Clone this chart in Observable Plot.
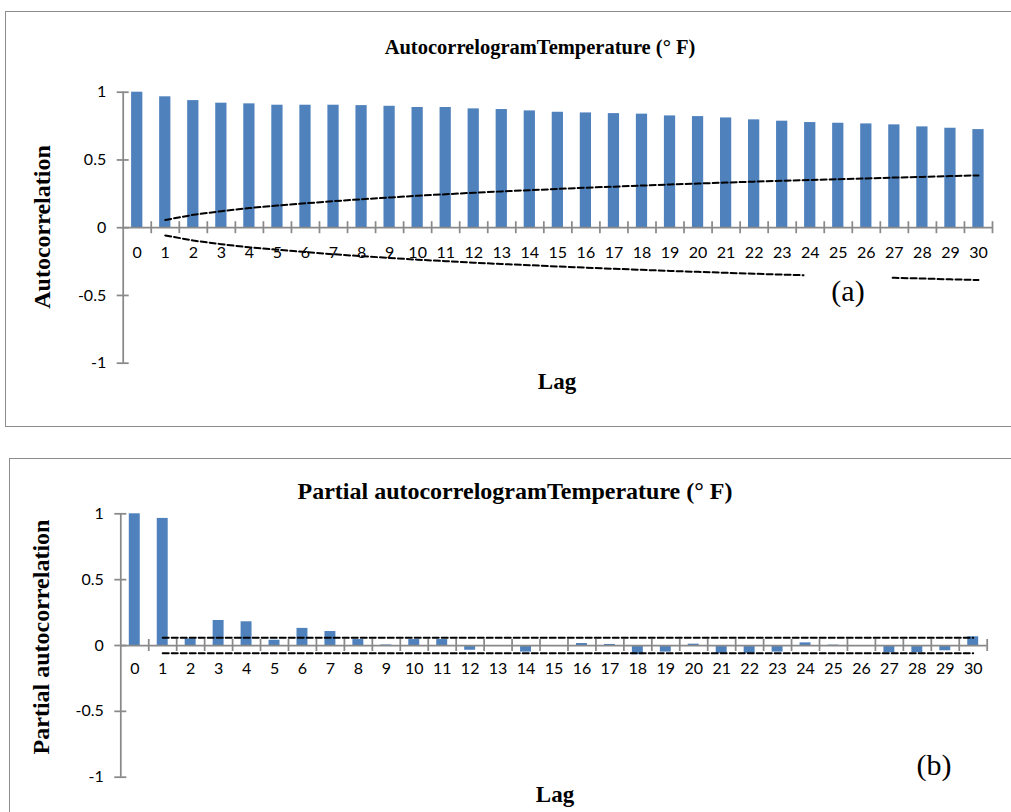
<!DOCTYPE html>
<html><head><meta charset="utf-8">
<script src="https://cdn.jsdelivr.net/npm/d3@7"></script>
<script src="https://cdn.jsdelivr.net/npm/@observablehq/plot@0.6"></script>
<style>
body{margin:0;background:#fff;}
#page{position:relative;width:1011px;height:812px;overflow:hidden;background:#fff;}
.box{position:absolute;border:1.5px solid #8c8c8c;box-sizing:border-box;}
.t{position:absolute;white-space:nowrap;color:#000;line-height:1;transform:translate(-50%,-50%);font-family:"Liberation Serif","Times New Roman",serif;}
.b{font-weight:bold;}
.rot{transform:translate(-50%,-50%) rotate(-90deg);}
.plot{position:absolute;left:0;}
</style></head><body><div id="page"></div>
<script>
// ---- data ----
const lags = [0,1,2,3,4,5,6,7,8,9,10,11,12,13,14,15,16,17,18,19,20,21,22,23,24,25,26,27,28,29,30];
const acfValues = [1.000,0.966,0.938,0.919,0.914,0.904,0.904,0.904,0.901,0.896,0.887,0.887,0.877,0.872,0.862,0.852,0.847,0.842,0.838,0.825,0.820,0.810,0.796,0.786,0.776,0.771,0.766,0.759,0.744,0.734,0.724];
const acfBoundLags = [1,2,3,4,5,6,7,8,9,10,11,12,13,14,15,16,17,18,19,20,21,22,23,24,25,26,27,28,29,30];
const acfBound = [0.057,0.095,0.122,0.145,0.163,0.180,0.196,0.210,0.223,0.236,0.247,0.258,0.268,0.277,0.286,0.295,0.303,0.311,0.319,0.326,0.333,0.340,0.346,0.352,0.358,0.364,0.370,0.375,0.381,0.386];
const pacfValues = [1.000,0.965,0.050,0.190,0.180,0.040,0.130,0.106,0.045,0.004,0.045,0.045,-0.036,-0.004,-0.050,-0.008,0.015,0.008,-0.070,-0.050,0.010,-0.060,-0.060,-0.050,0.020,0.003,0.000,-0.055,-0.055,-0.040,0.066];
const pacfBoundLags = [1,30];
const pacfBound = 0.058;
const yTicks = [-1,-0.5,0,0.5,1];
const yTickLabels = ["-1","-0.5","0","0.5","1"];

const titleA = "AutocorrelogramTemperature (° F)";
const titleB = "Partial autocorrelogramTemperature (° F)";

// ---- build ----
const page = document.getElementById("page");
const gray = "#898989";
const barColor = "#4f81bd";
const tickFont = "Lato, 'Open Sans', sans-serif";

function chart({values, boundLags, boundVals, height, mt, mb, ml, mr, inset, labelDy}) {
  const bars = lags.map((l, i) => ({lag: l, r: values[i]}));
  const upper = boundLags.map((l, i) => ({lag: l, b: boundVals[i]}));
  const lower = boundLags.map((l, i) => ({lag: l, b: -boundVals[i]}));
  const bounds = lags.map(l => l + 0.5);
  return Plot.plot({
    width: 1011, height,
    marginTop: mt, marginBottom: mb, marginLeft: ml, marginRight: mr,
    x: {type: "linear", domain: [-0.5, 30.5], axis: null},
    y: {domain: [-1, 1], axis: null},
    style: {background: "transparent", overflow: "visible"},
    marks: [
      Plot.rectY(bars, {x1: d => d.lag - 0.5, x2: d => d.lag + 0.5, y1: 0, y2: "r", insetLeft: inset, insetRight: inset, fill: barColor}),
      Plot.ruleY([0], {stroke: gray, strokeWidth: 1.75}),
      Plot.ruleX([-0.5], {y1: -1, y2: 1, stroke: gray, strokeWidth: 1.75}),
      Plot.ruleY(yTicks, {x1: -0.5, x2: -0.5, insetLeft: -6, insetRight: -6, stroke: gray, strokeWidth: 1.75}),
      Plot.ruleX(bounds, {y1: 0, y2: 0, insetTop: -6, insetBottom: -6, stroke: gray, strokeWidth: 1.75}),
      Plot.text(yTicks, {x: -0.5, y: d => d, text: (d, i) => yTickLabels[i], dx: -17, textAnchor: "end", fontSize: 16, fontFamily: tickFont, fill: "#000"}),
      Plot.text(lags, {x: d => d, y: 0, dy: labelDy, text: d => String(d), fontSize: 16, fontFamily: tickFont, fill: "#000"}),
      Plot.line(upper, {x: "lag", y: "b", stroke: "#000", strokeWidth: 2, strokeDasharray: "6,3"}),
      Plot.line(lower, {x: "lag", y: "b", stroke: "#000", strokeWidth: 2, strokeDasharray: "6,3"})
    ]
  });
}

function addBox(left, top, w, h) {
  const d = document.createElement("div");
  d.className = "box";
  Object.assign(d.style, {left: left + "px", top: top + "px", width: w + "px", height: h + "px"});
  page.appendChild(d);
}
function addText(txt, x, y, size, cls, extra) {
  const d = document.createElement("div");
  d.className = "t " + (cls || "");
  d.textContent = txt;
  Object.assign(d.style, {left: x + "px", top: y + "px", fontSize: size + "px"}, extra || {});
  page.appendChild(d);
  return d;
}

addBox(5, 11, 1020, 416);
addBox(9, 458, 1020, 400);

const p1 = chart({values: acfValues, boundLags: acfBoundLags, boundVals: acfBound,
  height: 440, mt: 91.7, mb: 77.3, ml: 122.7, mr: 19, inset: 8.4, labelDy: 25});
p1.classList.add("plot"); p1.style.top = "0px";
page.appendChild(p1);

const p2 = chart({values: pacfValues, boundLags: pacfBoundLags, boundVals: [pacfBound, pacfBound],
  height: 372, mt: 73.3, mb: 35.3, ml: 120.3, mr: 24.3, inset: 8.5, labelDy: 23});
p2.classList.add("plot"); p2.style.top = "440px";
page.appendChild(p2);

addText(titleA, 540, 47, 20.5, "b");
addText(titleB, 515, 491, 24, "b");
addText("Autocorrelation", 42, 227, 24, "b rot");
addText("Partial autocorrelation", 41, 637, 24, "b rot");
addText("Lag", 557, 381, 23, "b");
addText("Lag", 555, 794, 23, "b");
// label "(a)" sits in a white text box that hides part of the lower bound line
addText("(a)", 848, 297, 30, "", {background: "#fff", padding: "0 27px 12px 27px", lineHeight: "38px"});
addText("(b)", 934, 765, 30, "");
</script></body></html>
